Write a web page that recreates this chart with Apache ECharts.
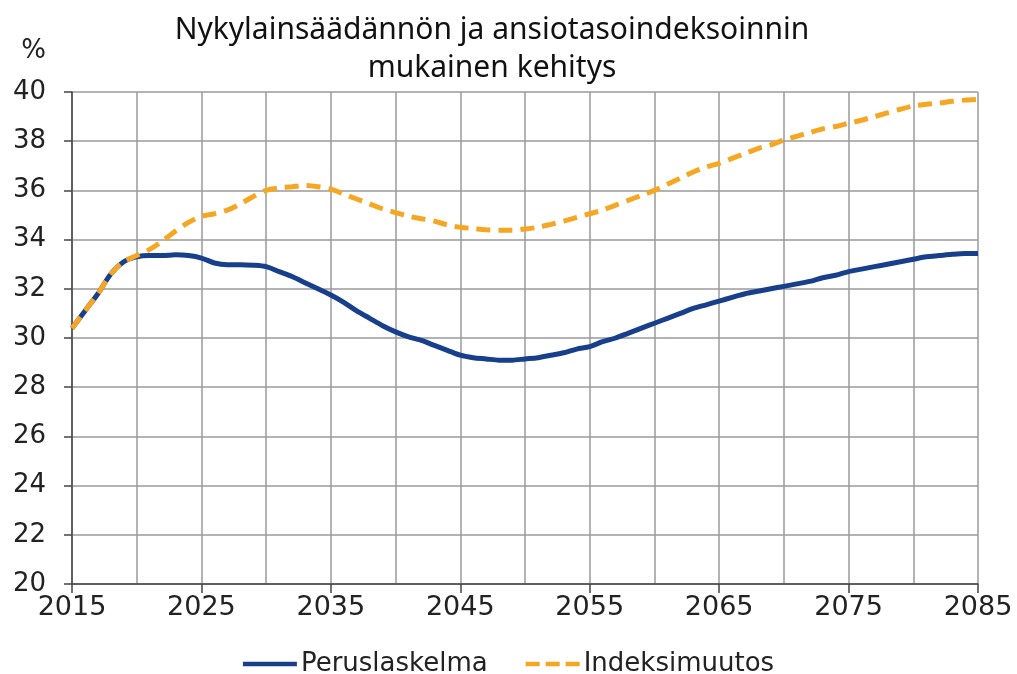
<!DOCTYPE html>
<html><head><meta charset="utf-8">
<script src="https://cdn.jsdelivr.net/npm/echarts@6/dist/echarts.min.js"></script>
<style>html,body{margin:0;padding:0;background:#fff}#c{width:1017px;height:674px}</style>
</head><body><div id="c"></div>
<script>
const years = [];
for (let y = 2015; y <= 2085; y++) years.push(y);
const perusName = 'Peruslaskelma';
const indeksiName = 'Indeksimuutos';
const perus = [30.4,31.1,31.8,32.6,33.1,33.3,33.35,33.35,33.38,33.35,
  33.25,33.05,32.98,32.98,32.96,32.9,32.7,32.5,32.25,32.0,
  31.75,31.45,31.1,30.8,30.5,30.25,30.05,29.9,29.7,29.5,
  29.3,29.2,29.15,29.1,29.1,29.15,29.2,29.3,29.4,29.55,
  29.65,29.85,30.0,30.2,30.4,30.6,30.8,31.0,31.2,31.35,
  31.5,31.65,31.8,31.9,32.0,32.1,32.2,32.3,32.45,32.55,
  32.7,32.8,32.9,33.0,33.1,33.2,33.3,33.35,33.4,33.43,33.43];
const indeksi = [30.4,31.1,31.8,32.6,33.1,33.35,33.6,33.95,34.35,34.7,
  34.95,35.05,35.2,35.45,35.75,36.0,36.1,36.15,36.2,36.15,
  36.05,35.85,35.65,35.45,35.25,35.1,34.95,34.85,34.75,34.6,
  34.5,34.45,34.4,34.38,34.38,34.43,34.5,34.62,34.75,34.9,
  35.05,35.2,35.4,35.6,35.8,36.0,36.25,36.5,36.75,36.95,
  37.1,37.3,37.5,37.7,37.85,38.05,38.2,38.35,38.5,38.6,
  38.73,38.85,39.0,39.15,39.3,39.43,39.5,39.55,39.62,39.67,39.7];
const titleText = 'Nykylainsäädännön ja ansiotasoindeksoinnin\nmukainen kehitys';
const yUnit = '%';

const blue = '#173f8b', orange = '#f5a623';
const chart = echarts.init(document.getElementById('c'), null, {renderer:'canvas'});
const gridColor = '#9a9a9a';
const axisFont = 'DejaVu Sans, Verdana, sans-serif';
chart.setOption({
  animation:false,
  backgroundColor:'#fff',
  title:{text:titleText,left:487,top:6,textAlign:'center',
    textStyle:{fontFamily:'Noto Sans, sans-serif',fontWeight:'normal',fontSize:30,color:'#111',lineHeight:38}},
  graphic:[{type:'text',right:1017-46,top:38,style:{text:yUnit,font:'26px DejaVu Sans, sans-serif',fill:'#222'}}],
  legend:{top:646,left:'center',itemWidth:54,itemHeight:14,itemGap:38,
    textStyle:{fontFamily:axisFont,fontSize:26,color:'#222',padding:[0,0,0,-1]},
    data:[
      {name:perusName,icon:'path://M0,0h54v4.5h-54z'},
      {name:indeksiName,icon:'path://M0,0h14v4.5h-14zM20,0h14v4.5h-14zM40,0h14v4.5h-14z'}
    ]},
  grid:{left:72,right:39,top:92,bottom:90},
  xAxis:{type:'value',min:2015,max:2085,interval:10,
    axisLine:{show:true,lineStyle:{color:'#444',width:1.5}},
    axisTick:{show:true,length:9,lineStyle:{color:'#444',width:1.5}},
    axisLabel:{fontFamily:axisFont,fontSize:27,color:'#222',margin:10,formatter:v=>String(v)},
    splitLine:{show:true,lineStyle:{color:gridColor,width:1.5}},
    minorTick:{show:false,splitNumber:2},
    minorSplitLine:{show:true,lineStyle:{color:gridColor,width:1.5}}},
  yAxis:{type:'value',min:20,max:40,interval:2,
    axisLine:{show:true,lineStyle:{color:'#444',width:1.5}},
    axisTick:{show:true,length:8,lineStyle:{color:'#444',width:1.5}},
    axisLabel:{fontFamily:axisFont,fontSize:26,color:'#222',margin:26},
    splitLine:{show:true,lineStyle:{color:gridColor,width:1.5}}},
  series:[
    {name:perusName,type:'line',symbol:'none',smooth:0.3,z:2,
      data:years.map((y,i)=>[y,perus[i]]),
      lineStyle:{color:blue,width:5},itemStyle:{color:blue}},
    {name:indeksiName,type:'line',symbol:'none',smooth:0.3,z:3,
      data:years.map((y,i)=>[y,indeksi[i]]),
      lineStyle:{color:orange,width:5,type:[14,8]},itemStyle:{color:orange}}
  ]
});
</script></body></html>
